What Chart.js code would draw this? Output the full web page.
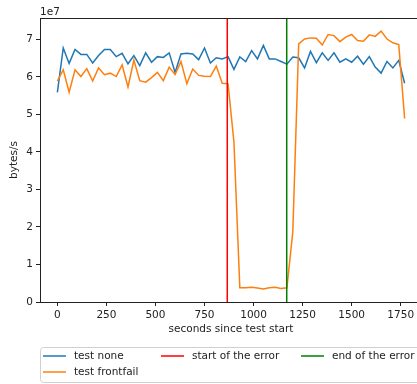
<!DOCTYPE html>
<html>
<head>
<meta charset="utf-8">
<script src="https://cdn.jsdelivr.net/npm/chart.js@4/dist/chart.umd.min.js"></script>
<style>
  html, body { margin: 0; padding: 0; overflow: hidden; background: #fff; }
  canvas { display: block; }
</style>
</head>
<body>
<canvas id="throughput" width="424" height="384"></canvas>
<script>
"use strict";

// sample times, seconds since test start
const times = [
    0, 30, 60, 90, 120, 150, 180, 210, 240, 270,
    300, 330, 360, 390, 420, 450, 480, 510, 540, 570,
    600, 630, 660, 690, 720, 750, 780, 810, 840, 870,
    900, 930, 960, 990, 1020, 1050, 1080, 1110, 1140, 1170,
    1200, 1230, 1260, 1290, 1320, 1350, 1380, 1410, 1440, 1470,
    1500, 1530, 1560, 1590, 1620, 1650, 1680, 1710, 1740, 1770
];

// throughput in bytes/s
const testNone = [
    5.59e7, 6.77e7, 6.36e7, 6.73e7, 6.60e7, 6.60e7, 6.37e7, 6.57e7, 6.73e7, 6.73e7,
    6.54e7, 6.63e7, 6.35e7, 6.57e7, 6.30e7, 6.64e7, 6.39e7, 6.54e7, 6.52e7, 6.64e7,
    6.12e7, 6.61e7, 6.63e7, 6.61e7, 6.46e7, 6.77e7, 6.37e7, 6.51e7, 6.48e7, 6.54e7,
    6.20e7, 6.53e7, 6.41e7, 6.70e7, 6.48e7, 6.84e7, 6.48e7, 6.48e7, 6.41e7, 6.34e7,
    6.53e7, 6.51e7, 6.24e7, 6.68e7, 6.38e7, 6.64e7, 6.44e7, 6.64e7, 6.39e7, 6.48e7,
    6.39e7, 6.55e7, 6.34e7, 6.54e7, 6.26e7, 6.10e7, 6.41e7, 6.24e7, 6.44e7, 5.83e7
];

const testFrontfail = [
    5.89e7, 6.19e7, 5.59e7, 6.19e7, 6.01e7, 6.22e7, 5.89e7, 6.24e7, 6.06e7, 6.10e7,
    6.01e7, 6.32e7, 5.73e7, 6.45e7, 5.90e7, 5.86e7, 5.98e7, 6.12e7, 5.90e7, 6.26e7,
    6.06e7, 6.41e7, 5.82e7, 6.21e7, 6.04e7, 6.02e7, 6.01e7, 6.29e7, 5.83e7, 5.82e7,
    4.26e7, 0.38e7, 0.38e7, 0.39e7, 0.37e7, 0.35e7, 0.38e7, 0.39e7, 0.36e7, 0.38e7,
    1.87e7, 6.88e7, 7.01e7, 7.04e7, 7.03e7, 6.85e7, 7.13e7, 7.10e7, 6.94e7, 7.06e7,
    7.13e7, 6.97e7, 6.95e7, 7.12e7, 7.08e7, 7.22e7, 7.01e7, 6.91e7, 6.86e7, 4.89e7
];

// when the injected error started and ended (seconds)
const errorStart = 866;
const errorEnd = 1169;

const xTicks = [0, 250, 500, 750, 1000, 1250, 1500, 1750];
const yTicks = [0, 1e7, 2e7, 3e7, 4e7, 5e7, 6e7, 7e7];
const X_MIN = -88.5, X_MAX = 1858.5;
const Y_MIN = 0, Y_MAX = 7.57e7;

const INK = "#222";
const FONT = { family: "'DejaVu Sans', sans-serif", size: 10.5 };
const CSS_FONT = "10.5px 'DejaVu Sans', sans-serif";

const pairs = (xs, ys) => xs.map((x, i) => ({ x: x, y: ys[i] }));
const vline = x => [{ x: x, y: Y_MIN }, { x: x, y: Y_MAX }];

// frame on top, the offset text and a matplotlib-like legend below the axes
const decorations = {
    id: "decorations",
    afterDraw(chart) {
        const ctx = chart.ctx, a = chart.chartArea;
        ctx.save();
        ctx.strokeStyle = INK;
        ctx.lineWidth = 1;
        ctx.beginPath();
        ctx.moveTo(a.left, a.top + 0.5);
        ctx.lineTo(a.right, a.top + 0.5);
        ctx.moveTo(a.right - 0.5, a.top);
        ctx.lineTo(a.right - 0.5, a.bottom);
        ctx.stroke();

        ctx.font = CSS_FONT;
        ctx.fillStyle = INK;
        ctx.textBaseline = "alphabetic";
        ctx.textAlign = "left";
        ctx.fillText("1e7", a.left, 15);

        // legend box
        const box = { left: 40.5, top: 347.5, bottom: 382.5 };
        ctx.beginPath();
        ctx.roundRect(box.left, box.top, chart.width + 10 - box.left, box.bottom - box.top, 3);
        ctx.fillStyle = "rgba(255,255,255,0.8)";
        ctx.fill();
        ctx.strokeStyle = "#d0d0d0";
        ctx.stroke();

        // column / row for each dataset, filled column by column
        const cols = [43, 161, 301], rows = [356, 372];
        const slots = [[0, 0], [0, 1], [1, 0], [2, 0]];
        ctx.textBaseline = "middle";
        chart.data.datasets.forEach((ds, i) => {
            const x = cols[slots[i][0]], y = rows[slots[i][1]];
            ctx.strokeStyle = ds.borderColor;
            ctx.lineWidth = 1.5;
            ctx.beginPath();
            ctx.moveTo(x, y);
            ctx.lineTo(x + 23, y);
            ctx.stroke();
            ctx.fillStyle = INK;
            ctx.fillText(ds.label, x + 31, y);
        });
        ctx.restore();
    }
};

new Chart(document.getElementById("throughput"), {
    type: "line",
    data: {
        datasets: [{
            label: "test none",
            data: pairs(times, testNone),
            borderColor: "#1f77b4",
            order: 4
        }, {
            label: "test frontfail",
            data: pairs(times, testFrontfail),
            borderColor: "#ff7f0e",
            order: 3
        }, {
            label: "start of the error",
            data: vline(errorStart),
            borderColor: "#ff0000",
            order: 2
        }, {
            label: "end of the error",
            data: vline(errorEnd),
            borderColor: "#008000",
            order: 1
        }]
    },
    options: {
        responsive: false,
        animation: false,
        events: [],
        layout: { padding: { top: 18, right: 2, bottom: 42, left: 0 } },
        elements: {
            line: { borderWidth: 1.5, tension: 0, fill: false },
            point: { radius: 0 }
        },
        plugins: {
            legend: { display: false },
            tooltip: { enabled: false }
        },
        scales: {
            x: {
                type: "linear",
                min: X_MIN,
                max: X_MAX,
                afterBuildTicks: s => { s.ticks = xTicks.map(v => ({ value: v })); },
                afterFit: s => { s.height = 40; },
                ticks: { font: FONT, color: INK, padding: 3, maxRotation: 0, callback: v => String(v) },
                grid: { drawOnChartArea: false, tickLength: 4, tickColor: INK },
                border: { color: INK, width: 1 },
                title: {
                    display: true,
                    text: "seconds since test start",
                    font: FONT,
                    color: INK,
                    padding: { top: 4, bottom: 6 }
                }
            },
            y: {
                min: Y_MIN,
                max: Y_MAX,
                afterBuildTicks: s => { s.ticks = yTicks.map(v => ({ value: v })); },
                afterFit: s => { s.width = 40; },
                ticks: { font: FONT, color: INK, padding: 3, callback: v => String(v / 1e7) },
                grid: { drawOnChartArea: false, tickLength: 4, tickColor: INK },
                border: { color: INK, width: 1 },
                title: {
                    display: true,
                    text: "bytes/s",
                    font: FONT,
                    color: INK,
                    padding: { top: 8, bottom: 0 }
                }
            }
        }
    },
    plugins: [decorations]
});
</script>
</body>
</html>
